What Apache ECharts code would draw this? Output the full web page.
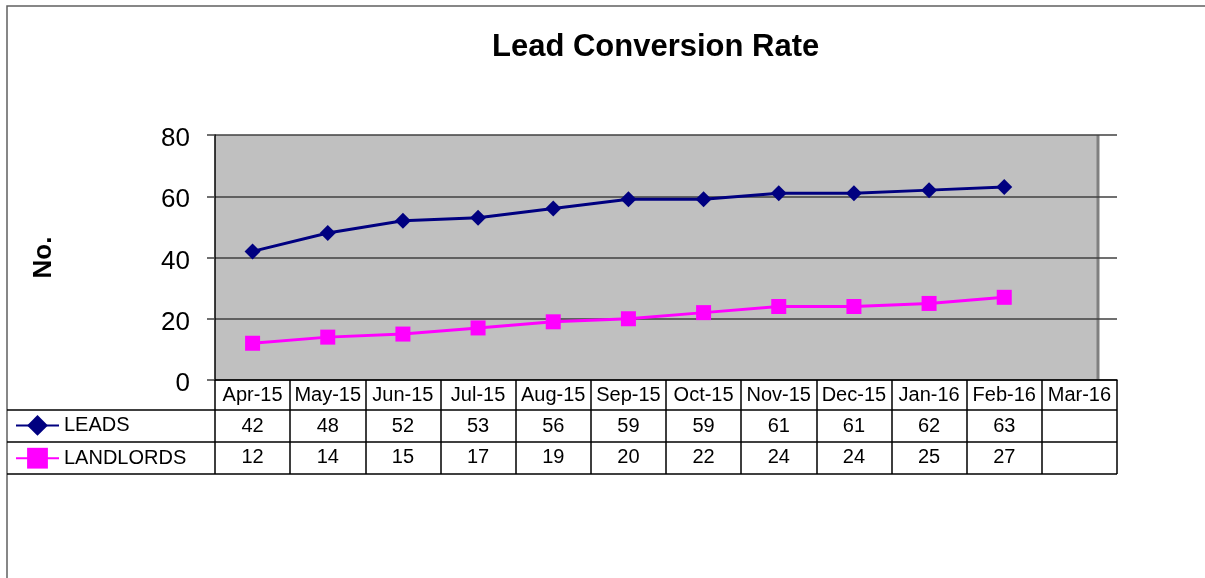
<!DOCTYPE html>
<html>
<head>
<meta charset="utf-8">
<script src="https://cdn.jsdelivr.net/npm/echarts@6/dist/echarts.min.js"></script>
<style>html,body{margin:0;padding:0;background:#fff;}#chart{width:1205px;height:578px;}</style>
</head>
<body>
<div id="chart"></div>
<script>
const months = ['Apr-15','May-15','Jun-15','Jul-15','Aug-15','Sep-15','Oct-15','Nov-15','Dec-15','Jan-16','Feb-16','Mar-16'];
const leads = [42,48,52,53,56,59,59,61,61,62,63,null];
const landlords = [12,14,15,17,19,20,22,24,24,25,27,null];
const yTicks = [0,20,40,60,80];

const FONT = "'Liberation Sans', Arial, sans-serif";
const chart = echarts.init(document.getElementById('chart'));
const G = {left:215, right:88, top:135, bottom:198};

function fmtVal(v){ return (v === null || v === undefined) ? ' ' : String(v); }

chart.setOption({
  animation:false,
  backgroundColor:'#fff',
  title:{
    text:'Lead Conversion Rate', left:492, top:32, padding:0,
    textStyle:{fontFamily:FONT, fontSize:31, fontWeight:'bold', color:'#000'}
  },
  legend:{
    orient:'vertical', left:15, top:415, padding:0, itemWidth:43, itemHeight:26, itemGap:12,
    textStyle:{fontFamily:FONT, fontSize:20, color:'#000', padding:[0,0,4,0]},
    data:['LEADS','LANDLORDS']
  },
  grid:{left:G.left, right:G.right, top:G.top, bottom:G.bottom, containLabel:false},
  xAxis:{
    type:'category', data:months, boundaryGap:true,
    axisLine:{show:true, lineStyle:{color:'#000', width:1.5}},
    axisTick:{show:true, interval:0, length:94, lineStyle:{color:'#000', width:1.5}},
    axisLabel:{
      interval:0, margin:0, fontFamily:FONT, fontSize:20, color:'#000', lineHeight:31,
      formatter:function(v, i){ return v + '\n' + fmtVal(leads[i]) + '\n' + fmtVal(landlords[i]); }
    },
    splitLine:{show:false}
  },
  yAxis:{
    type:'value', min:yTicks[0], max:yTicks[yTicks.length-1], interval:20,
    name:'No.', nameLocation:'middle', nameRotate:90, nameGap:158,
    nameTextStyle:{fontFamily:FONT, fontSize:26, fontWeight:'bold', color:'#000'},
    axisLine:{show:true, lineStyle:{color:'#000', width:1.5}},
    axisTick:{show:true, length:8, lineStyle:{color:'#404040', width:1.5}},
    axisLabel:{
      margin:25,
      formatter:function(v){ return '{v|' + v + '}'; },
      rich:{v:{fontFamily:FONT, fontSize:26, color:'#000', padding:[8,0,0,0]}}
    },
    splitLine:{show:true, lineStyle:{color:'#404040', width:1.5}}
  },
  series:[
    {name:'LEADS', type:'line', data:leads, symbol:'diamond', symbolSize:16,
     itemStyle:{color:'#000080'}, lineStyle:{color:'#000080', width:3}, z:3},
    {name:'LANDLORDS', type:'line', data:landlords, symbol:'rect', symbolSize:15,
     itemStyle:{color:'#ff00ff'}, lineStyle:{color:'#ff00ff', width:3}, z:3}
  ]
});

// Decorations derived from axis scale
const x0 = chart.convertToPixel({xAxisIndex:0}, months[0]);
const x1 = chart.convertToPixel({xAxisIndex:0}, months[1]);
const band = x1 - x0;
const leftEdge = x0 - band/2;
const rightEdge = chart.convertToPixel({xAxisIndex:0}, months[months.length-1]) + band/2;
const yTop = chart.convertToPixel({yAxisIndex:0}, yTicks[yTicks.length-1]);
const yBot = chart.convertToPixel({yAxisIndex:0}, yTicks[0]);
const wallX = rightEdge - 19;
const rowH = 32;
const border = {x:7, y:6};

chart.setOption({
  graphic:[
    {type:'rect', z:-10, silent:true,
     shape:{x:leftEdge, y:yTop, width:wallX-leftEdge, height:yBot-yTop},
     style:{fill:'#c0c0c0'}},
    {type:'line', z:-5, silent:true,
     shape:{x1:wallX, y1:yTop, x2:wallX, y2:yBot},
     style:{stroke:'#808080', lineWidth:3}},
    {type:'rect', z:-20, silent:true,
     shape:{x:border.x, y:border.y, width:1300, height:700},
     style:{fill:'none', stroke:'#606060', lineWidth:1.5}},
    {type:'line', silent:true,
     shape:{x1:border.x, y1:yBot+30, x2:rightEdge, y2:yBot+30},
     style:{stroke:'#000', lineWidth:1.5}},
    {type:'line', silent:true,
     shape:{x1:border.x, y1:yBot+30+rowH, x2:rightEdge, y2:yBot+30+rowH},
     style:{stroke:'#000', lineWidth:1.5}},
    {type:'line', silent:true,
     shape:{x1:border.x, y1:yBot+30+2*rowH, x2:rightEdge, y2:yBot+30+2*rowH},
     style:{stroke:'#000', lineWidth:1.5}}
  ]
});
</script>
</body>
</html>
